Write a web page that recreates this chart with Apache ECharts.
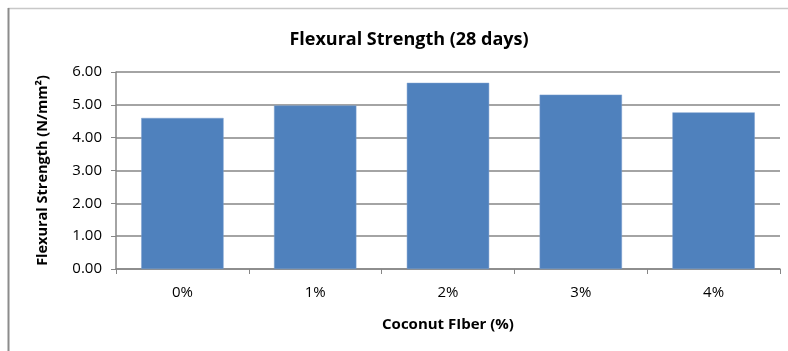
<!DOCTYPE html>
<html><head><meta charset="utf-8">
<script src="https://cdn.jsdelivr.net/npm/echarts@6/dist/echarts.min.js"></script>
<style>html,body{margin:0;padding:0;background:#fff}#c{width:788px;height:351px}</style>
</head><body><div id="c"></div>
<script>
const categories = ['0%', '1%', '2%', '3%', '4%'];
const strength = [4.60, 4.98, 5.67, 5.31, 4.77];
const yTicks = [0, 1, 2, 3, 4, 5, 6];

const chart = echarts.init(document.getElementById('c'));
const font = '"Open Sans", "Liberation Sans", sans-serif';
chart.setOption({
  animation: false,
  backgroundColor: '#fff',
  title: {
    text: 'Flexural Strength (28 days)', left: 404, top: 26, textAlign: 'center',
    textStyle: {fontFamily: font, fontSize: 18, fontWeight: 'bold', color: '#000'}
  },
  graphic: [
    {type: 'line', shape: {x1: 8, y1: 8.5, x2: 788, y2: 8.5}, style: {stroke: '#c8c8c8', lineWidth: 1.5}},
    {type: 'line', shape: {x1: 8.5, y1: 8, x2: 8.5, y2: 351}, style: {stroke: '#8c8c8c', lineWidth: 2}}
  ],
  grid: {left: 116, right: 8, top: 72, bottom: 82},
  xAxis: {
    type: 'category', data: categories,
    name: 'Coconut FIber (%)', nameLocation: 'middle', nameGap: 48,
    nameTextStyle: {fontFamily: font, fontSize: 15, fontWeight: 'bold', color: '#000'},
    axisLine: {lineStyle: {color: '#868686', width: 1.5}},
    axisTick: {show: true, alignWithLabel: false, length: 5, lineStyle: {color: '#868686'}},
    axisLabel: {fontFamily: font, fontSize: 15, color: '#000', margin: 16}
  },
  yAxis: {
    type: 'value', min: yTicks[0], max: yTicks[yTicks.length - 1], interval: 1,
    name: 'Flexural Strength (N/mm²)', nameLocation: 'middle', nameGap: 66,
    nameTextStyle: {fontFamily: font, fontSize: 14.5, fontWeight: 'bold', color: '#000'},
    axisLine: {show: true, lineStyle: {color: '#868686', width: 1.5}},
    axisTick: {show: true, length: 5, lineStyle: {color: '#868686'}},
    axisLabel: {fontFamily: font, fontSize: 15, color: '#000', margin: 14,
      formatter: v => v.toFixed(2)},
    splitLine: {lineStyle: {color: '#868686', width: 1.5}}
  },
  series: [{
    type: 'bar', data: strength, barWidth: '62%',
    itemStyle: {color: '#4F81BD', borderColor: '#7a9fcf', borderWidth: 0.5}
  }]
});
</script></body></html>
